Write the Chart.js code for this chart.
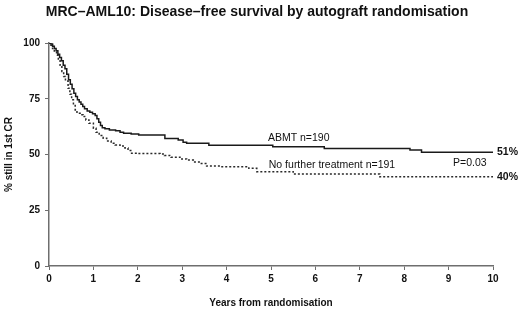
<!DOCTYPE html>
<html>
<head>
<meta charset="utf-8">
<script src="https://cdn.jsdelivr.net/npm/chart.js@4"></script>
<style>
html,body{margin:0;padding:0;background:#fff;}
#wrap{width:520px;height:310px;position:relative;}
</style>
</head>
<body>
<div id="wrap"><canvas id="c" width="520" height="310"></canvas></div>
<script>
// ---- data ----
const chartTitle = "MRC\u2013AML10: Disease\u2013free survival by autograft randomisation";
const xTitle = "Years from randomisation";
const yTitle = "% still in 1st CR";

const abmtLabel = "ABMT n=190";
const abmtTime = [0,0.04,0.08,0.12,0.16,0.2,0.24,0.28,0.32,0.36,0.4,0.44,0.48,0.52,0.56,0.6,0.64,0.68,0.72,0.76,0.8,0.86,0.92,0.98,1.04,1.08,1.12,1.16,1.2,1.26,1.36,1.5,1.6,1.68,1.85,2.02,2.54,2.61,2.91,3.02,3.1,3.6,3.85,5.04,6.2,8.13,8.39,10];
const abmtSurv = [100,99.5,98.5,97.5,96.5,95,93.5,92,90,88.5,86,83.5,81.5,79.5,77.5,76,74.5,73.5,72.5,71.5,70.5,69.5,69,68.3,67.5,66,64.5,63,62,61.5,61,60.6,60,59.5,59.2,58.7,58.7,57.2,56.5,55.5,55,54.2,54.2,53.5,52.7,52,51,51];

const nftLabel = "No further treatment n=191";
const nftTime = [0,0.04,0.08,0.12,0.17,0.21,0.25,0.29,0.33,0.37,0.43,0.47,0.51,0.55,0.59,0.63,0.7,0.77,0.83,0.9,1.0,1.06,1.13,1.22,1.3,1.4,1.49,1.6,1.71,1.78,1.86,2.0,2.5,2.6,2.75,2.95,3.1,3.25,3.4,3.55,3.85,4.5,4.68,5.5,7.45,10];
const nftSurv = [100,99,97.5,96,94.5,92.5,90,87.2,85,83,79.7,77,74.5,72.3,70,68.5,67.8,67,65.5,64,61.8,60,58.5,57.3,56,55,54.3,53.8,52.9,51.8,50.6,50.4,50.2,49.5,48.8,48,47.5,46.6,46,44.8,44.5,43.8,42.3,41.2,40,40];

const pValue = "P=0.03";
const abmtFinal = "51%";
const nftFinal = "40%";

const xTicks = [0,1,2,3,4,5,6,7,8,9,10];
const yTicks = [0,25,50,75,100];

// ---- chart ----
const FONT = "'Liberation Sans', Arial, Helvetica, sans-serif";
const toPts = (t, s) => t.map((x, i) => ({x: x, y: s[i]}));

const annot = {
  id: 'annot',
  afterDraw(chart) {
    const {ctx, scales: {x, y}} = chart;
    ctx.save();
    ctx.fillStyle = '#111';
    // title
    ctx.font = 'bold 14px ' + FONT;
    ctx.textAlign = 'center';
    ctx.textBaseline = 'middle';
    ctx.fillText(chartTitle, 257, 12);
    // in-plot labels
    ctx.font = '10.5px ' + FONT;
    ctx.textAlign = 'left';
    ctx.fillText(abmtLabel, x.getPixelForValue(4.93), y.getPixelForValue(57.3));
    ctx.fillText(nftLabel, x.getPixelForValue(4.95), y.getPixelForValue(45.2));
    ctx.fillText(pValue, x.getPixelForValue(9.1), y.getPixelForValue(46.0));
    ctx.font = 'bold 10.5px ' + FONT;
    ctx.fillText(abmtFinal, x.right + 4, y.getPixelForValue(51));
    ctx.fillText(nftFinal, x.right + 4, y.getPixelForValue(40));
    ctx.restore();
  }
};

new Chart(document.getElementById('c'), {
  type: 'line',
  data: {
    datasets: [
      {
        label: abmtLabel,
        data: toPts(abmtTime, abmtSurv),
        borderColor: '#1a1a1a',
        borderWidth: 1.5,
        pointRadius: 0,
        stepped: true,
        fill: false
      },
      {
        label: nftLabel,
        data: toPts(nftTime, nftSurv),
        borderColor: '#2a2a2a',
        borderWidth: 1.5,
        borderDash: [2, 2],
        pointRadius: 0,
        stepped: true,
        fill: false
      }
    ]
  },
  options: {
    responsive: false,
    animation: false,
    layout: {padding: {top: 43, right: 27, left: 0, bottom: 0}},
    plugins: {legend: {display: false}, title: {display: false}, tooltip: {enabled: false}},
    scales: {
      x: {
        type: 'linear',
        min: 0, max: 10,
        afterFit(s) { s.height = 44; },
        afterBuildTicks(s) { s.ticks = xTicks.map(v => ({value: v})); },
        border: {color: '#6e6e6e', width: 1.5},
        grid: {drawOnChartArea: false, drawTicks: true, tickLength: 4, color: '#6e6e6e', lineWidth: 1},
        ticks: {color: '#111', font: {family: FONT, size: 10, weight: 'bold'}, padding: 3, maxRotation: 0},
        title: {display: true, text: xTitle, color: '#111', font: {family: FONT, size: 10, weight: 'bold'}, padding: {top: 0, bottom: 1}}
      },
      y: {
        type: 'linear',
        min: 0, max: 100,
        afterFit(s) { s.width = 49; },
        afterBuildTicks(s) { s.ticks = yTicks.map(v => ({value: v})); },
        border: {color: '#6e6e6e', width: 1.5},
        grid: {drawOnChartArea: false, drawTicks: true, tickLength: 4, color: '#6e6e6e', lineWidth: 1},
        ticks: {color: '#111', font: {family: FONT, size: 10, weight: 'bold'}, padding: 5},
        title: {display: true, text: yTitle, color: '#111', font: {family: FONT, size: 10, weight: 'bold'}, padding: {top: 3, bottom: 0}}
      }
    }
  },
  plugins: [annot]
});
</script>
</body>
</html>
